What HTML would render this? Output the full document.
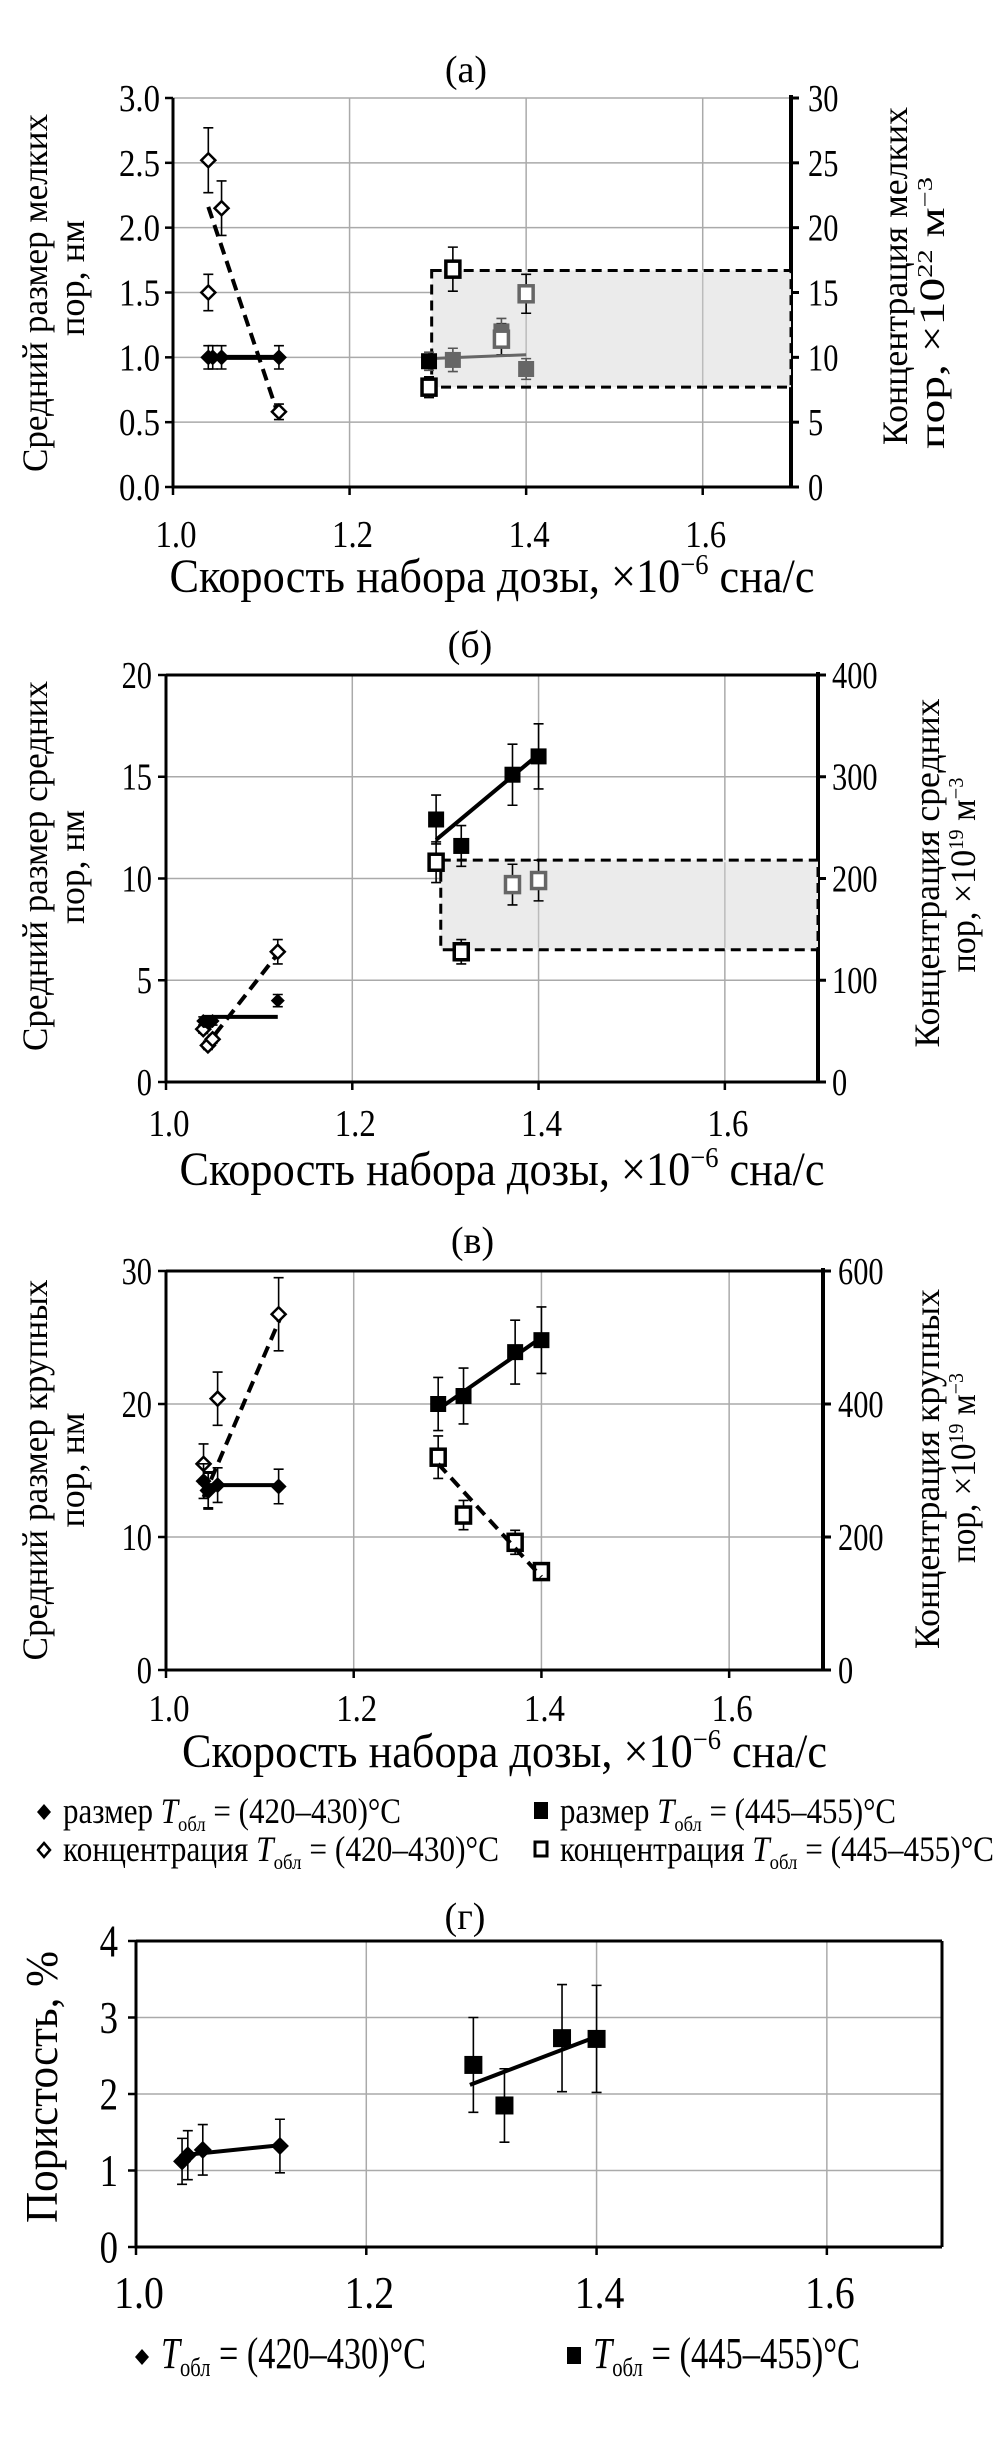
<!DOCTYPE html>
<html><head><meta charset="utf-8"><style>
html,body{margin:0;padding:0;background:#fff}
svg{display:block}
text{font-family:"Liberation Serif",serif;fill:#000}
</style></head><body>
<svg id="fig" width="995" height="2442" viewBox="0 0 995 2442" xmlns="http://www.w3.org/2000/svg"></svg>
<script>
// ---------- data: panel (a) small pores ----------
const A_size1_x=[1.04,1.045,1.055,1.12];
const A_size1_y=[1.0,1.0,1.0,1.0];
const A_size1_e=[0.09,0.09,0.09,0.09];
const A_conc1_x=[1.04,1.04,1.055,1.12];
const A_conc1_y=[15,25.2,21.5,5.8];
const A_conc1_e=[1.4,2.5,2.1,0.6];
const A_size2_x=[1.29,1.317,1.372,1.40];
const A_size2_y=[0.97,0.98,1.2,0.91];
const A_size2_e=[0.07,0.09,0.1,0.08];
const A_conc2_x=[1.29,1.317,1.372,1.40];
const A_conc2_y=[7.7,16.8,11.4,14.9];
const A_conc2_e=[0.8,1.7,1.2,1.5];
const A_trend1_x=[1.04,1.12], A_trend1_y=[1.0,1.0];
const A_trendC1_x=[1.04,1.12], A_trendC1_y=[21.6,5.4];
const A_trend2_x=[1.29,1.40], A_trend2_y=[0.99,1.02];
const A_box_x=[1.293,1.7], A_box_y=[7.7,16.7];
// ---------- data: panel (б) medium pores ----------
const B_size1_x=[1.04,1.045,1.05,1.12];
const B_size1_y=[3.0,2.9,3.0,4.0];
const B_size1_e=[0.2,0.2,0.2,0.3];
const B_conc1_x=[1.04,1.045,1.05,1.12];
const B_conc1_y=[52,36,42,128];
const B_conc1_e=[4,4,4,12];
const B_size2_x=[1.29,1.317,1.372,1.40];
const B_size2_y=[12.9,11.6,15.1,16.0];
const B_size2_e=[1.2,1.0,1.5,1.6];
const B_conc2_x=[1.29,1.317,1.372,1.40];
const B_conc2_y=[216,128,194,198];
const B_conc2_e=[20,12,20,20];
const B_trend1_x=[1.04,1.12], B_trend1_y=[3.2,3.2];
const B_trendC1_x=[1.04,1.125], B_trendC1_y=[32,132];
const B_trend2_x=[1.29,1.40], B_trend2_y=[11.9,16.1];
const B_box_x=[1.295,1.7], B_box_y=[130,218];
// ---------- data: panel (в) large pores ----------
const C_size1_x=[1.04,1.045,1.055,1.12];
const C_size1_y=[14.2,13.5,13.9,13.8];
const C_size1_e=[1.3,1.3,1.3,1.3];
const C_conc1_x=[1.04,1.045,1.055,1.12];
const C_conc1_y=[310,270,408,535];
const C_conc1_e=[30,28,40,55];
const C_size2_x=[1.29,1.317,1.372,1.40];
const C_size2_y=[20.0,20.6,23.9,24.8];
const C_size2_e=[2.0,2.1,2.4,2.5];
const C_conc2_x=[1.29,1.317,1.372,1.40];
const C_conc2_y=[320,233,192,148];
const C_conc2_e=[32,22,18,10];
const C_trend1_x=[1.04,1.12], C_trend1_y=[13.9,13.9];
const C_trendC1_x=[1.04,1.125], C_trendC1_y=[260,540];
const C_trend2_x=[1.29,1.40], C_trend2_y=[19.6,25.0];
const C_trendC2_x=[1.29,1.40], C_trendC2_y=[310,140];
// ---------- data: panel (г) porosity ----------
const D_p1_x=[1.04,1.045,1.058,1.125];
const D_p1_y=[1.12,1.2,1.27,1.32];
const D_p1_e=[0.3,0.32,0.33,0.35];
const D_p2_x=[1.293,1.32,1.37,1.40];
const D_p2_y=[2.38,1.85,2.73,2.72];
const D_p2_e=[0.62,0.48,0.7,0.7];
const D_trend1_x=[1.04,1.125], D_trend1_y=[1.2,1.33];
const D_trend2_x=[1.29,1.40], D_trend2_y=[2.12,2.75];
const xTicks=[1.0,1.2,1.4,1.6];
const xTickLabels=["1.0","1.2","1.4","1.6"];

const NS="http://www.w3.org/2000/svg";
const svg=document.getElementById('fig');
function mk(tag,attrs,parent){const e=document.createElementNS(NS,tag);for(const k in attrs)e.setAttribute(k,attrs[k]);(parent||svg).appendChild(e);return e;}
function txt(str,x,y,size,anchor,len,parent){const t=mk('text',{x:x,y:y,'font-size':size,'text-anchor':anchor||'start'},parent);t.innerHTML=str;if(len){t.setAttribute('textLength',len);t.setAttribute('lengthAdjust','spacingAndGlyphs');}return t;}

function panel(cfg){
  const g=mk('g',{});
  
  
  const X=v=>cfg.x0+(v-1.0)/0.7*(cfg.x1-cfg.x0);
  const YL=v=>cfg.yB-v/cfg.lmax*(cfg.yB-cfg.yT);
  const YR=v=>cfg.yB-v/cfg.rmax*(cfg.yB-cfg.yT);
  cfg.X=X;cfg.YL=YL;cfg.YR=YR;cfg.g=g;
  for(let i=1;i<xTicks.length;i++){const l=mk('line',{x1:X(xTicks[i]),x2:X(xTicks[i]),y1:cfg.yT,y2:cfg.yB,stroke:'#aaa','stroke-width':1.5},g);
    
    }
  for(let v=cfg.lstep;v<=cfg.lmax+1e-9;v+=cfg.lstep){const l=mk('line',{x1:cfg.x0,x2:cfg.x1,y1:YL(v),y2:YL(v),stroke:'#aaa','stroke-width':1.5},g);
    
    }
  const ax=mk('path',{d:`M${cfg.x0},${cfg.yT}V${cfg.yB}H${cfg.x1}`,fill:'none',stroke:'#000','stroke-width':3},g);
  
  
  if(cfg.top){const t=mk('line',{x1:cfg.x0,x2:cfg.x1,y1:cfg.yT,y2:cfg.yT,stroke:'#000','stroke-width':3},g);
    
    }
  if(cfg.rmax){const r=mk('line',{x1:cfg.x1,x2:cfg.x1,y1:cfg.yT-3,y2:cfg.yB,stroke:'#000','stroke-width':4},g);
    
    }
  else {const r=mk('line',{x1:cfg.x1,x2:cfg.x1,y1:cfg.yT,y2:cfg.yB,stroke:'#000','stroke-width':3},g);
    
    }
  xTicks.forEach((v,i)=>{
    mk('line',{x1:X(v),x2:X(v),y1:cfg.yB,y2:cfg.yB+8,stroke:'#000','stroke-width':2.5},g);
    const t=txt(xTickLabels[i],X(v)+3,cfg.xtY,cfg.tfs,'middle',cfg.tfs*1.08,g);
    
    
  });
  for(let v=0;v<=cfg.lmax+1e-9;v+=cfg.lstep){
    mk('line',{x1:cfg.x0-8,x2:cfg.x0,y1:YL(v),y2:YL(v),stroke:'#000','stroke-width':2.5},g);
    const s=v.toFixed(cfg.ldec);
    const t=txt(s,cfg.ltx,YL(v)+cfg.tfs*0.34,cfg.tfs,'end',cfg.tfs*(s.length===1?0.4:s.length===2?0.8:1.08),g);
    
    
  }
  if(cfg.rmax){
    for(let v=0;v<=cfg.rmax+1e-9;v+=cfg.rstep){
      mk('line',{x1:cfg.x1,x2:cfg.x1+8,y1:YR(v),y2:YR(v),stroke:'#000','stroke-width':3},g);
      const s=String(v);
      const t=txt(s,cfg.rtx,YR(v)+cfg.tfs*0.34,cfg.tfs,'start',cfg.tfs*0.4*s.length,g);
      
      
    }
  }
  const tt=txt(cfg.title,(cfg.x0+cfg.x1)/2+(cfg.titleDx||0),cfg.titleY,38,'middle',null,g);
  
  
  return cfg;
}
function rotText(lines,g,fs){
  lines.forEach(l=>{
    const t=mk('text',{x:0,y:0,'font-size':fs,'text-anchor':'middle',transform:`translate(${l[0]},${l[1]}) rotate(-90)`,textLength:l[3],lengthAdjust:'spacingAndGlyphs'},g);
    t.innerHTML=l[2];
    
    
  });
}
function xlabel(cfg,y){
  const t=txt('Скорость набора дозы, ×10<tspan font-size="60%" dy="-18">−6</tspan><tspan dy="18"> сна/с</tspan>',(cfg.x0+cfg.x1)/2+10,y,48,'middle',645,cfg.g);
  
  
}
function errbars(cfg,xs,ys,es,Y,color,name){
  xs.forEach((x,i)=>{
    const px=cfg.X(x),y1=Y(ys[i]-es[i]),y2=Y(ys[i]+es[i]);
    const e=mk('path',{d:`M${px},${y1}V${y2}M${px-5},${y1}H${px+5}M${px-5},${y2}H${px+5}`,stroke:color,'stroke-width':1.6,fill:'none'},cfg.g);
    
    
  });
}
function markers(cfg,xs,ys,Y,type,colors,name,sz){
  xs.forEach((x,i)=>{
    const px=cfg.X(x),py=Y(ys[i]);const c=Array.isArray(colors)?colors[i]:colors;let m;
    const s=sz||8;
    if(type==='dfill') m=mk('path',{d:`M${px},${py-s}L${px+s},${py}L${px},${py+s}L${px-s},${py}Z`,fill:c},cfg.g);
    else if(type==='dopen') m=mk('path',{d:`M${px},${py-7}L${px+7},${py}L${px},${py+7}L${px-7},${py}Z`,fill:'#fff',stroke:c,'stroke-width':2.5},cfg.g);
    else if(type==='sfill') m=mk('rect',{x:px-s,y:py-s,width:2*s,height:2*s,fill:c},cfg.g);
    else m=mk('rect',{x:px-7,y:py-8,width:14,height:16,fill:'#fff',stroke:c,'stroke-width':3.5},cfg.g);
    
    
  });
}
function trend(cfg,xs,ys,Y,color,dash,name,w){
  const l=mk('line',{x1:cfg.X(xs[0]),y1:Y(ys[0]),x2:cfg.X(xs[1]),y2:Y(ys[1]),stroke:color,'stroke-width':w||4,'stroke-dasharray':dash?'12,7':'none'},cfg.g);
  
  
}
function box(cfg,bx,by){
  const x1=cfg.X(bx[0]),x2=cfg.X(bx[1]),y1=cfg.YR(by[1]),y2=cfg.YR(by[0]);
  const r=mk('rect',{x:x1,y:y1,width:x2-x1,height:y2-y1,fill:'#ebebeb',stroke:'#000','stroke-width':3,'stroke-dasharray':'10,6'},cfg.g);
  
  
}
const SUP22='пор, ×10<tspan font-size="60%" dy="-12">22</tspan><tspan dy="12"> м</tspan><tspan font-size="60%" dy="-12">−3</tspan>';
const SUP19='пор, ×10<tspan font-size="60%" dy="-12">19</tspan><tspan dy="12"> м</tspan><tspan font-size="60%" dy="-12">−3</tspan>';

// ----- panel (a)
const A=panel({name:'small-pores',title:'(a)',x0:173,x1:791,yT:98,yB:487,lmax:3,lstep:0.5,ldec:1,rmax:30,rstep:5,top:false,tfs:38,xtY:547,ltx:160,rtx:808,titleY:82,titleDx:-16});
box(A,A_box_x,A_box_y);
[1.4,1.6].forEach(v=>{const l=mk('line',{x1:A.X(v),x2:A.X(v),y1:A.YR(A_box_y[1])+2,y2:A.YR(A_box_y[0])-2,stroke:'#bbb','stroke-width':1.5},A.g);});
errbars(A,A_conc1_x,A_conc1_y,A_conc1_e,A.YR,'#000','conc-420');
trend(A,A_trendC1_x,A_trendC1_y,A.YR,'#000',true,'trend-conc-420');
markers(A,A_conc1_x,A_conc1_y,A.YR,'dopen','#000','marker-conc-420');
errbars(A,A_size1_x,A_size1_y,A_size1_e,A.YL,'#000','size-420');
trend(A,A_trend1_x,A_trend1_y,A.YL,'#000',false,'trend-size-420',5);
markers(A,A_size1_x,A_size1_y,A.YL,'dfill','#000','marker-size-420');
errbars(A,A_conc2_x,A_conc2_y,A_conc2_e,A.YR,'#000','conc-445');
errbars(A,A_size2_x,A_size2_y,A_size2_e,A.YL,'#555','size-445');
trend(A,A_trend2_x,A_trend2_y,A.YL,'#666',false,'trend-size-445',3);
markers(A,A_size2_x,A_size2_y,A.YL,'sfill',['#000','#666','#666','#666'],'marker-size-445');
markers(A,A_conc2_x,A_conc2_y,A.YR,'sopen',['#000','#000','#666','#666'],'marker-conc-445');
rotText([[47,293,'Средний размер мелких',358,'y-axis-title-line1'],[84,278,'пор, нм',116,'y-axis-title-line2'],
 [907,276,'Концентрация мелких',338,'right-axis-title-line1'],[944,313,SUP22,272,'right-axis-title-line2']],A.g,36);
xlabel(A,592);

// ----- panel (б)
const B=panel({name:'medium-pores',title:'(б)',x0:166,x1:818,yT:675,yB:1082,lmax:20,lstep:5,ldec:0,rmax:400,rstep:100,top:true,tfs:38,xtY:1136,ltx:152,rtx:832,titleY:657,titleDx:-22});
box(B,B_box_x,B_box_y);
[1.4,1.6].forEach(v=>{const l=mk('line',{x1:B.X(v),x2:B.X(v),y1:B.YR(B_box_y[1])+2,y2:B.YR(B_box_y[0])-2,stroke:'#bbb','stroke-width':1.5},B.g);});
errbars(B,B_size2_x,B_size2_y,B_size2_e,B.YL,'#000','size-445');
trend(B,B_trend2_x,B_trend2_y,B.YL,'#000',false,'trend-size-445');
markers(B,B_size2_x,B_size2_y,B.YL,'sfill','#000','marker-size-445');
errbars(B,B_conc2_x,B_conc2_y,B_conc2_e,B.YR,'#000','conc-445');
markers(B,B_conc2_x,B_conc2_y,B.YR,'sopen',['#000','#000','#666','#666'],'marker-conc-445');
errbars(B,B_conc1_x,B_conc1_y,B_conc1_e,B.YR,'#000','conc-420');
trend(B,B_trendC1_x,B_trendC1_y,B.YR,'#000',true,'trend-conc-420');
markers(B,B_conc1_x,B_conc1_y,B.YR,'dopen','#000','marker-conc-420');
errbars(B,B_size1_x,B_size1_y,B_size1_e,B.YL,'#000','size-420');
trend(B,B_trend1_x,B_trend1_y,B.YL,'#000',false,'trend-size-420');
markers(B,B_size1_x,B_size1_y,B.YL,'dfill','#000','marker-size-420',7);
rotText([[47,866,'Средний размер средних',370,'y-axis-title-line1'],[84,867,'пор, нм',114,'y-axis-title-line2'],
 [939,873,'Концентрация средних',349,'right-axis-title-line1'],[975,875,SUP19,195,'right-axis-title-line2']],B.g,36);
xlabel(B,1185);

// ----- panel (в)
const C=panel({name:'large-pores',title:'(в)',x0:166,x1:823,yT:1271,yB:1670,lmax:30,lstep:10,ldec:0,rmax:600,rstep:200,top:true,tfs:38,xtY:1721,ltx:152,rtx:838,titleY:1253,titleDx:-22});
errbars(C,C_conc1_x,C_conc1_y,C_conc1_e,C.YR,'#000','conc-420');
trend(C,C_trendC1_x,C_trendC1_y,C.YR,'#000',true,'trend-conc-420');
markers(C,C_conc1_x,C_conc1_y,C.YR,'dopen','#000','marker-conc-420');
errbars(C,C_size1_x,C_size1_y,C_size1_e,C.YL,'#000','size-420');
trend(C,C_trend1_x,C_trend1_y,C.YL,'#000',false,'trend-size-420');
markers(C,C_size1_x,C_size1_y,C.YL,'dfill','#000','marker-size-420');
errbars(C,C_size2_x,C_size2_y,C_size2_e,C.YL,'#000','size-445');
trend(C,C_trend2_x,C_trend2_y,C.YL,'#000',false,'trend-size-445');
markers(C,C_size2_x,C_size2_y,C.YL,'sfill','#000','marker-size-445');
errbars(C,C_conc2_x,C_conc2_y,C_conc2_e,C.YR,'#000','conc-445');
markers(C,C_conc2_x,C_conc2_y,C.YR,'sopen','#000','marker-conc-445');
trend(C,C_trendC2_x,C_trendC2_y,C.YR,'#000',true,'trend-conc-445');
rotText([[47,1470,'Средний размер крупных',381,'y-axis-title-line1'],[84,1470,'пор, нм',115,'y-axis-title-line2'],
 [939,1469,'Концентрация крупных',360,'right-axis-title-line1'],[975,1468,SUP19,190,'right-axis-title-line2']],C.g,36);
xlabel(C,1767);

// ----- legend 1
function legendItem(x,y,type,label,len,fs,name){
  const g=mk('g',{});
  
  
  if(type==='dfill') mk('path',{d:`M${x},${y-19}l7,8l-7,8l-7,-8z`,fill:'#000'},g);
  else if(type==='dopen') mk('path',{d:`M${x},${y-18}l6,7l-6,7l-6,-7z`,fill:'#fff',stroke:'#000','stroke-width':2.5},g);
  else if(type==='sfill') mk('rect',{x:x-7,y:y-21,width:14,height:17,fill:'#000'},g);
  else mk('rect',{x:x-6,y:y-19,width:12,height:14,fill:'#fff',stroke:'#000','stroke-width':3},g);
  const t=mk('text',{x:x+19,y:y,'font-size':fs,textLength:len,lengthAdjust:'spacingAndGlyphs'},g);
  t.innerHTML=label;
}
const sub='<tspan font-style="italic">T</tspan><tspan font-size="60%" dy="8">обл</tspan><tspan dy="-8">';
legendItem(44,1823,'dfill','размер '+sub+' = (420–430)°C</tspan>',338,36,'legend-size-420');
legendItem(541,1823,'sfill','размер '+sub+' = (445–455)°C</tspan>',336,36,'legend-size-445');
legendItem(44,1861,'dopen','концентрация '+sub+' = (420–430)°C</tspan>',436,36,'legend-conc-420');
legendItem(541,1861,'sopen','концентрация '+sub+' = (445–455)°C</tspan>',434,36,'legend-conc-445');

// ----- panel (г)
const D=panel({name:'porosity',title:'(г)',x0:136,x1:942,yT:1941,yB:2247,lmax:4,lstep:1,ldec:0,rmax:0,top:true,tfs:46,xtY:2308,ltx:118,titleY:1929,titleDx:-74});
errbars(D,D_p1_x,D_p1_y,D_p1_e,D.YL,'#000','porosity-420');
trend(D,D_trend1_x,D_trend1_y,D.YL,'#000',false,'trend-porosity-420');
markers(D,D_p1_x,D_p1_y,D.YL,'dfill','#000','marker-porosity-420',9);
errbars(D,D_p2_x,D_p2_y,D_p2_e,D.YL,'#000','porosity-445');
trend(D,D_trend2_x,D_trend2_y,D.YL,'#000',false,'trend-porosity-445');
markers(D,D_p2_x,D_p2_y,D.YL,'sfill','#000','marker-porosity-445',9);
rotText([[57,2087,'Пористость, %',272,'y-axis-title']],D.g,46);
legendItem(142,2368,'dfill','<tspan font-style="italic">T</tspan><tspan font-size="60%" dy="8">обл</tspan><tspan dy="-8"> = (420–430)°C</tspan>',265,44,'legend-porosity-420');
legendItem(574,2368,'sfill','<tspan font-style="italic">T</tspan><tspan font-size="60%" dy="8">обл</tspan><tspan dy="-8"> = (445–455)°C</tspan>',267,44,'legend-porosity-445');
</script>
</body></html>
